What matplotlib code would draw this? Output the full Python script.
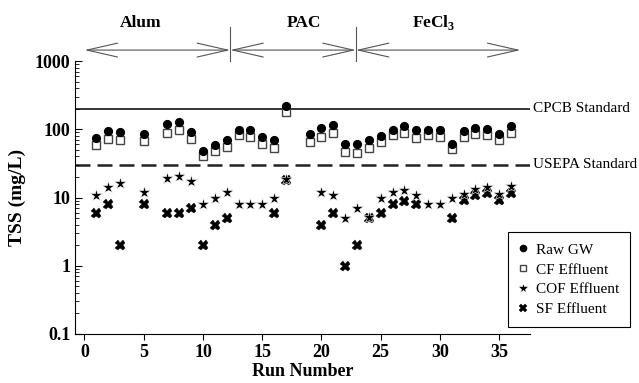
import numpy as np
import matplotlib
matplotlib.use('Agg')
import matplotlib.pyplot as plt

plt.rcParams['font.family'] = ['Liberation Serif', 'DejaVu Serif']
plt.rcParams['mathtext.fontset'] = 'custom'
plt.rcParams['mathtext.rm'] = 'Liberation Serif:bold'
plt.rcParams['mathtext.bf'] = 'Liberation Serif:bold'

# TSS readings (mg/L) per run
runs_raw = [1, 2, 3, 5, 7, 8, 9, 10, 11, 12, 13, 14, 15, 16, 17, 19, 20, 21, 22, 23,
            24, 25, 26, 27, 28, 29, 30, 31, 32, 33, 34, 35, 36]
raw_gw = [74, 94, 90, 85, 120, 127, 91, 48, 58, 70, 96, 96, 77, 69, 220, 86, 106, 117, 60, 60,
          70, 79, 99, 113, 99, 97, 97, 61, 93, 106, 100, 86, 110]
cf_eff = [58, 72, 70, 67, 88, 97, 73, 40, 48, 55, 83, 77, 60, 54, 176, 65, 77, 89, 46, 45,
          54, 64, 81, 88, 75, 82, 76, 51, 77, 86, 81, 69, 88]

runs_cof = [1, 2, 3, 5, 7, 8, 9, 10, 11, 12, 13, 14, 15, 16, 17, 20, 21, 22, 23, 24,
            25, 26, 27, 28, 29, 30, 31, 32, 33, 34, 35, 36]
cof_eff = [11, 14.2, 16.2, 12, 19.2, 20.4, 17.2, 8, 10, 12, 8, 8, 8, 10, 18.5, 12, 11, 5, 7, 5.2,
           10, 12, 13, 11, 8, 8, 10, 11.3, 13.4, 14.2, 11.3, 14.5]

runs_sf = [1, 2, 3, 5, 7, 8, 9, 10, 11, 12, 16, 17, 20, 21, 22, 23, 24, 25, 26, 27, 28,
           31, 32, 33, 34, 35, 36]
sf_eff = [6, 8, 2, 8, 6, 6, 7, 2, 4, 5, 6, 18, 4, 6, 1, 2, 5, 6, 8, 9, 8,
          5, 9.2, 11, 11.7, 9.2, 11.7]

cpcb_std = 200
usepa_std = 30

# coagulant phases: (label, start run, end run, label x)
phases = [('Alum', 0, 12.3, 4.7), ('PAC', 12.3, 22.9, 18.5), (r'FeCl$_\mathbf{3}$', 22.9, 36.8, 29.5)]

fig = plt.figure(figsize=(6.39, 3.83), dpi=100)
ax = fig.add_axes([75/639, 49/383, 455/639, 273/383])

ax.set_yscale('log')
ax.set_ylim(0.1, 1000)
ax.set_xlim(-0.8, 37.6)

ax.axhline(cpcb_std, color='black', lw=1.1, zorder=1)
ax.axhline(usepa_std, color='#222222', lw=1.8, dashes=(6, 2.8), zorder=1)
ax.text(1.006, cpcb_std, 'CPCB Standard', transform=ax.get_yaxis_transform(),
        va='center', ha='left', fontsize=11)
ax.text(1.006, usepa_std, 'USEPA Standard', transform=ax.get_yaxis_transform(),
        va='center', ha='left', fontsize=11)

ax.plot(runs_raw, cf_eff, ls='none', marker='s', ms=5.2, mfc='white', mec='#444444',
        mew=1.0, label='CF Effluent', zorder=3)
ax.plot(runs_raw, raw_gw, ls='none', marker='o', ms=5.6, color='black',
        label='Raw GW', zorder=4)
ax.plot(runs_sf, sf_eff, ls='none', marker='X', ms=7.2, color='black', mec='black',
        mew=0.3, label='SF Effluent', zorder=3)
ax.plot(runs_cof, cof_eff, ls='none', marker='*', ms=9.5, color='black', mec='white',
        mew=0.4, label='COF Effluent', zorder=4)

# phase arrows above the plot
trans = ax.get_xaxis_transform()
for name, x0, x1, xl in phases:
    ax.annotate('', xy=(x0, 1.04), xytext=(x1, 1.04), xycoords=trans, textcoords=trans,
                arrowprops=dict(arrowstyle='<->,head_length=2.2,head_width=0.5',
                                mutation_scale=10, color='#555555', lw=0.8,
                                shrinkA=0, shrinkB=0),
                annotation_clip=False)
    ax.text(xl, 1.14, name, transform=trans, ha='center', va='center',
            fontsize=12.5, fontweight='bold')
for xd in [12.3, 22.9]:
    ax.plot([xd, xd], [1.0, 1.125], transform=trans, color='#555555', lw=0.8,
            clip_on=False)

ax.spines['top'].set_visible(False)
ax.spines['right'].set_visible(False)
ax.set_xticks([0, 5, 10, 15, 20, 25, 30, 35])
ax.set_yticks([0.1, 1, 10, 100, 1000])
ax.set_yticklabels(['0.1', '1', '10', '100', '1000'])
ax.tick_params(axis='x', direction='out', length=4, labelsize=13, pad=3)
ax.tick_params(axis='y', which='major', direction='in', length=5, labelsize=13)
ax.tick_params(axis='y', which='minor', direction='in', length=3)
for lab in ax.get_xticklabels() + ax.get_yticklabels():
    lab.set_fontweight('bold')

ax.set_xlabel('Run Number', fontsize=13, fontweight='bold', labelpad=2)
ax.set_ylabel('TSS (mg/L)', fontsize=14, fontweight='bold', labelpad=6)

h, l = ax.get_legend_handles_labels()
order = [1, 0, 3, 2]
leg = ax.legend([h[i] for i in order], [l[i] for i in order], loc='lower left',
                bbox_to_anchor=(0.952, 0.026), borderaxespad=0, fontsize=11,
                frameon=True, fancybox=False, edgecolor='black', framealpha=1,
                handlelength=0.6, handletextpad=0.5, labelspacing=0.4, borderpad=0.7,
                markerscale=0.8)
leg.get_frame().set_linewidth(0.8)

fig.savefig('out.png', dpi=100)
